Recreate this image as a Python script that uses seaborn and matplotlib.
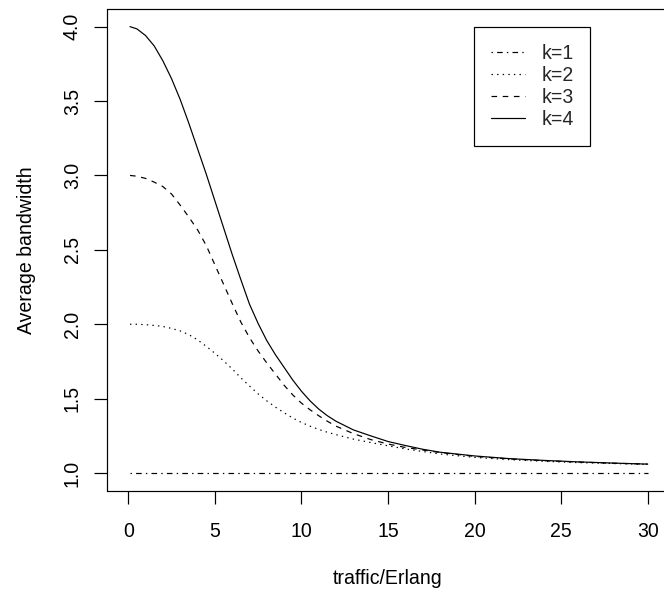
import matplotlib
matplotlib.use("Agg")
import matplotlib.pyplot as plt
import seaborn as sns
import pandas as pd

# ---- data ----
traffic = [0.1, 0.5, 1, 1.5, 2, 2.5, 3, 3.5, 4, 4.5, 5, 5.5, 6, 6.5, 7, 7.5,
           8, 8.5, 9, 9.5, 10, 10.5, 11, 11.5, 12, 13, 14, 15, 16, 17, 18,
           20, 22, 24, 26, 28, 30]
k1 = [1.0, 1.0, 1.0, 1.0, 1.0, 1.0, 1.0, 1.0, 1.0, 1.0, 1.0, 1.0, 1.0, 1.0,
      1.0, 1.0, 1.0, 1.0, 1.0, 1.0, 1.0, 1.0, 1.0, 1.0, 1.0, 1.0, 1.0, 1.0,
      1.0, 1.0, 1.0, 1.0, 1.0, 1.0, 1.0, 1.0, 1.0]
k2 = [2.00, 2.00, 1.997, 1.992, 1.985, 1.972, 1.955, 1.93, 1.895, 1.852,
      1.805, 1.755, 1.70, 1.64, 1.585, 1.532, 1.485, 1.443, 1.405, 1.37,
      1.34, 1.315, 1.293, 1.274, 1.258, 1.228, 1.205, 1.183, 1.162, 1.145,
      1.128, 1.105, 1.09, 1.079, 1.07, 1.064, 1.058]
k3 = [3.00, 2.995, 2.98, 2.955, 2.925, 2.875, 2.80, 2.72, 2.635, 2.53, 2.40,
      2.27, 2.14, 2.015, 1.91, 1.82, 1.74, 1.665, 1.59, 1.525, 1.47, 1.425,
      1.385, 1.348, 1.315, 1.265, 1.225, 1.195, 1.172, 1.155, 1.138, 1.112,
      1.095, 1.083, 1.074, 1.066, 1.06]
k4 = [4.00, 3.985, 3.94, 3.87, 3.77, 3.65, 3.51, 3.35, 3.18, 3.01, 2.83,
      2.65, 2.47, 2.30, 2.135, 2.005, 1.89, 1.795, 1.71, 1.625, 1.55, 1.485,
      1.43, 1.385, 1.348, 1.29, 1.25, 1.212, 1.185, 1.16, 1.14, 1.115, 1.097,
      1.085, 1.075, 1.067, 1.06]
series_labels = ["k=1", "k=2", "k=3", "k=4"]
x_ticks = [0, 5, 10, 15, 20, 25, 30]
y_ticks = [1.0, 1.5, 2.0, 2.5, 3.0, 3.5, 4.0]
x_label = "traffic/Erlang"
y_label = "Average bandwidth"

frames = []
for lab, vals in zip(series_labels, [k1, k2, k3, k4]):
    frames.append(pd.DataFrame({"traffic": traffic, "bw": vals, "k": lab}))
df = pd.concat(frames, ignore_index=True)

# ---- style ----
sns.set_theme(style="ticks")
plt.rcParams["font.family"] = ["Liberation Sans", "DejaVu Sans"]
plt.rcParams["lines.scale_dashes"] = False
FS = 19.5
LW = 1.2

DPI = 72
fig = plt.figure(figsize=(664 / DPI, 593 / DPI), dpi=DPI)
W, H = 664.0, 593.0
left, right, top, bottom = 107.5, 668.5, 8.8, 490.9
ax = fig.add_axes([left / W, (H - bottom) / H, (right - left) / W, (bottom - top) / H])

dash_map = {
    "k=1": (1.4, 4.2, 5.6, 4.2),
    "k=2": (1.4, 4.2),
    "k=3": (5.6, 5.6),
    "k=4": "",
}
sns.lineplot(data=df, x="traffic", y="bw", hue="k", style="k",
             palette=["black"] * 4, dashes=dash_map, linewidth=LW,
             ax=ax, legend=True)

ax.set_xlim(-1.2, 31.2)
ax.set_ylim(0.88, 4.12)
ax.set_xticks(x_ticks)
ax.set_xticklabels([str(t) for t in x_ticks])
ax.set_yticks(y_ticks)
ax.set_yticklabels([f"{t:.1f}" for t in y_ticks])

for s in ax.spines.values():
    s.set_color("black")
    s.set_linewidth(LW)
ax.set_facecolor("white")
fig.patch.set_facecolor("white")

ax.tick_params(axis="both", direction="out", length=13, width=LW,
               color="black", labelcolor="black", labelsize=FS)
ax.tick_params(axis="x", pad=18)
ax.tick_params(axis="y", pad=12.5, labelrotation=90)
for t in ax.get_yticklabels():
    t.set_va("center")
    t.set_ha("right")

ax.set_xlabel(x_label, fontsize=FS, color="black")
ax.set_ylabel(y_label, fontsize=FS, color="black")
ax.xaxis.label.set_va("baseline")
ax.xaxis.set_label_coords(0.5, (H - 584 - (H - bottom)) / (bottom - top))
ax.yaxis.label.set_rotation_mode("anchor")
ax.yaxis.label.set_va("baseline")
ax.yaxis.label.set_ha("center")
ax.yaxis.set_label_coords((32.5 - left) / (right - left), 0.5)

old = ax.get_legend()
handles = old.legend_handles
labels = [t.get_text() for t in old.get_texts()]
old.remove()
leg = ax.legend(handles, labels, loc="upper left",
                bbox_to_anchor=(474 / W, 1 - 27 / H),
                bbox_transform=fig.transFigure,
                fontsize=FS, frameon=True, fancybox=False, shadow=False,
                framealpha=1, edgecolor="black", borderpad=0.85,
                handlelength=1.74, handletextpad=0.87, labelspacing=0.16,
                borderaxespad=0)
leg.get_frame().set_linewidth(LW)
for h in leg.legend_handles:
    h.set_linewidth(LW)
    h.set_color("black")

fig.savefig("out.png", dpi=DPI, facecolor="white")
